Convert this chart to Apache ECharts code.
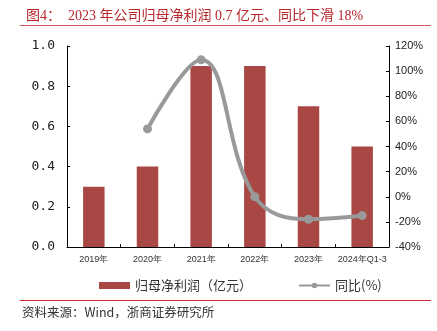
<!DOCTYPE html>
<html><head><meta charset="utf-8">
<script src="https://cdn.jsdelivr.net/npm/echarts@6/dist/echarts.min.js"></script>
<style>html,body{margin:0;padding:0;background:#fff}#c{width:437px;height:331px}</style>
</head><body><div id="c"></div>
<script>
const categories = ['2019年','2020年','2021年','2022年','2023年','2024年Q1-3'];
const profit = [0.3, 0.4, 0.9, 0.9, 0.7, 0.5];
const yoy = [null, 54, 109, 0, -18, -15];
const leftTicks = [0, 0.2, 0.4, 0.6, 0.8, 1.0];
const rightTicks = [-40, -20, 0, 20, 40, 60, 80, 100, 120];

const chart = echarts.init(document.getElementById('c'));
chart.setOption({
  animation: false,
  title: {
    text: '图4：  2023 年公司归母净利润 0.7 亿元、同比下滑 18%',
    left: 21, top: 4,
    textStyle: {color: '#b8262c', fontSize: 14, fontWeight: 'normal', fontFamily: '"Liberation Serif","Noto Sans CJK SC",serif'}
  },
  graphic: [
    {type: 'line', shape: {x1: 20, y1: 25.5, x2: 431, y2: 25.5}, style: {stroke: '#d0575b', lineWidth: 1}},
    {type: 'line', shape: {x1: 20, y1: 300.5, x2: 431, y2: 300.5}, style: {stroke: '#d0272d', lineWidth: 1}},
    {type: 'text', left: 22, top: 306, style: {text: '资料来源：Wind，浙商证券研究所', fill: '#333', fontSize: 12.5, fontFamily: '"Noto Sans CJK SC",sans-serif'}}
  ],
  legend: {
    top: 274, left: 94,
    itemGap: 46, itemWidth: 31, itemHeight: 7,
    textStyle: {color: '#333', fontSize: 13, fontFamily: '"Noto Sans CJK SC",sans-serif'},
    data: [{name: '归母净利润（亿元）', icon: 'rect'}, {name: '同比(%)'}]
  },
  grid: {left: 67, right: 48, top: 46, bottom: 84},
  xAxis: {
    type: 'category', data: categories,
    axisLine: {lineStyle: {color: '#000', width: 1}},
    axisTick: {show: true, inside: true, length: 3, lineStyle: {color: '#000'}},
    axisLabel: {color: '#333', fontSize: 9, margin: 8, interval: 0}
  },
  yAxis: [
    {
      type: 'value', min: 0, max: 1.0, interval: 0.2,
      axisLine: {show: true, lineStyle: {color: '#000'}},
      axisTick: {show: true, inside: true, length: 3, lineStyle: {color: '#000'}},
      splitLine: {show: false},
      axisLabel: {color: '#222', fontSize: 13, margin: 12, formatter: v => v.toFixed(1), fontFamily: '"DejaVu Sans Mono",monospace'}
    },
    {
      type: 'value', min: -40, max: 120, interval: 20,
      axisLine: {show: true, lineStyle: {color: '#000'}},
      axisTick: {show: true, inside: true, length: 3, lineStyle: {color: '#000'}},
      splitLine: {show: false},
      axisLabel: {color: '#222', fontSize: 11, margin: 6, formatter: v => v + '%'}
    }
  ],
  series: [
    {
      name: '归母净利润（亿元）', type: 'bar', data: profit, barWidth: '40%',
      itemStyle: {color: '#a94744'}
    },
    {
      name: '同比(%)', type: 'line', yAxisIndex: 1, data: yoy, smooth: 0.4,
      symbol: 'circle', symbolSize: 9,
      lineStyle: {color: '#999999', width: 4},
      itemStyle: {color: '#999999'}
    }
  ]
});
</script></body></html>
